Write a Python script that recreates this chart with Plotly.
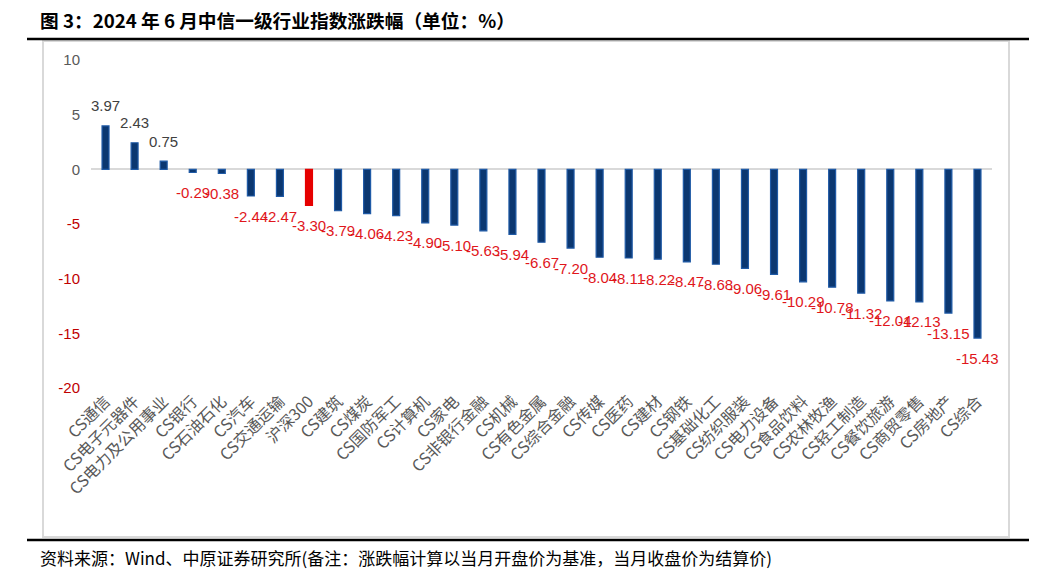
import plotly.graph_objects as go

categories = ["CS通信", "CS电子元器件", "CS电力及公用事业", "CS银行", "CS石油石化", "CS汽车",
              "CS交通运输", "沪深300", "CS建筑", "CS煤炭", "CS国防军工", "CS计算机", "CS家电",
              "CS非银行金融", "CS机械", "CS有色金属", "CS综合金融", "CS传媒", "CS医药", "CS建材",
              "CS钢铁", "CS基础化工", "CS纺织服装", "CS电力设备", "CS食品饮料", "CS农林牧渔",
              "CS轻工制造", "CS餐饮旅游", "CS商贸零售", "CS房地产", "CS综合"]
values = [3.97, 2.43, 0.75, -0.29, -0.38, -2.44, -2.47, -3.30, -3.79, -4.06, -4.23, -4.90, -5.10,
          -5.63, -5.94, -6.67, -7.20, -8.04, -8.11, -8.22, -8.47, -8.68, -9.06, -9.61, -10.29,
          -10.78, -11.32, -12.04, -12.13, -13.15, -15.43]
benchmark = "沪深300"
y_ticks = [10, 5, 0, -5, -10, -15, -20]

W, H = 1059, 582
L, R, T, B = 91, 992, 60, 388
CJK = "Noto Sans CJK SC, Liberation Sans, sans-serif"
NUM = "Liberation Sans, Noto Sans CJK SC, sans-serif"

def px(x):
    return (x - L) / (R - L)

def py(y):
    return (B - y) / (B - T)

NAVY = "#0B3770"
EDGE = "#1F5AA6"
RED = "#E60000"
NEG_TXT = "#E0161B"
GRAY_TXT = "#404040"

fill = [RED if c == benchmark else NAVY for c in categories]
edge = [RED if c == benchmark else EDGE for c in categories]

fig = go.Figure()
fig.add_trace(go.Bar(
    x=categories, y=values,
    marker=dict(color=fill, line=dict(color=edge, width=1.2)),
    width=0.24,
    hoverinfo="x+y",
))

for c, v in zip(categories, values):
    fig.add_annotation(
        x=c, y=v, xref="x", yref="y",
        text=f"{v:.2f}", showarrow=False,
        yshift=20 if v >= 0 else -20, yanchor="middle",
        font=dict(family=NUM, size=15, color=GRAY_TXT if v >= 0 else NEG_TXT),
    )

tick_text = [f"<span style='color:{'#C00000' if t < 0 else '#595959'}'>{t}</span>" for t in y_ticks]

fig.update_layout(
    width=W, height=H,
    margin=dict(l=L, r=W - R, t=T, b=H - B, autoexpand=False),
    paper_bgcolor="white", plot_bgcolor="white",
    showlegend=False,
    bargap=0.76,
    xaxis=dict(
        type="category", tickangle=-45, showgrid=False, showline=False, ticks="",
        tickfont=dict(family=CJK, size=16, color="#595959"), automargin=False,
        range=[-0.5, len(categories) - 0.5],
    ),
    yaxis=dict(
        range=[-20, 10], tickvals=y_ticks, ticktext=tick_text,
        showgrid=False, showline=False, ticks="", zeroline=True,
        zerolinecolor="#D9D9D9", zerolinewidth=1.5, automargin=False,
        tickfont=dict(family=NUM, size=15, color="#595959"),
        ticklabelstandoff=10,
    ),
    shapes=[
        dict(type="rect", xref="paper", yref="paper", x0=px(43), x1=px(1009), y0=py(537), y1=py(41),
             line=dict(color="#D9D9D9", width=2), layer="below"),
        dict(type="line", xref="paper", yref="paper", x0=px(27), x1=px(1029), y0=py(39), y1=py(39),
             line=dict(color="black", width=2.5)),
        dict(type="line", xref="paper", yref="paper", x0=px(27), x1=px(1029), y0=py(540), y1=py(540),
             line=dict(color="black", width=2.5)),
    ],
)

fig.add_annotation(
    xref="paper", yref="paper", x=px(38), y=py(20), xanchor="left", yanchor="middle",
    text="<b>图 3：2024 年 6 月中信一级行业指数涨跌幅（单位：%）</b>", showarrow=False,
    font=dict(family=CJK, size=18.7, color="black"),
)
fig.add_annotation(
    xref="paper", yref="paper", x=px(38), y=py(557), xanchor="left", yanchor="middle",
    text="资料来源：Wind、中原证券研究所(备注：涨跌幅计算以当月开盘价为基准，当月收盘价为结算价)",
    showarrow=False, font=dict(family=CJK, size=17, color="black"),
)

fig.write_html(
    "out.html",
    config={"displayModeBar": False},
    post_script="document.documentElement.style.overflow='hidden';"
                "document.body.style.margin='0';document.body.style.overflow='hidden';",
)
